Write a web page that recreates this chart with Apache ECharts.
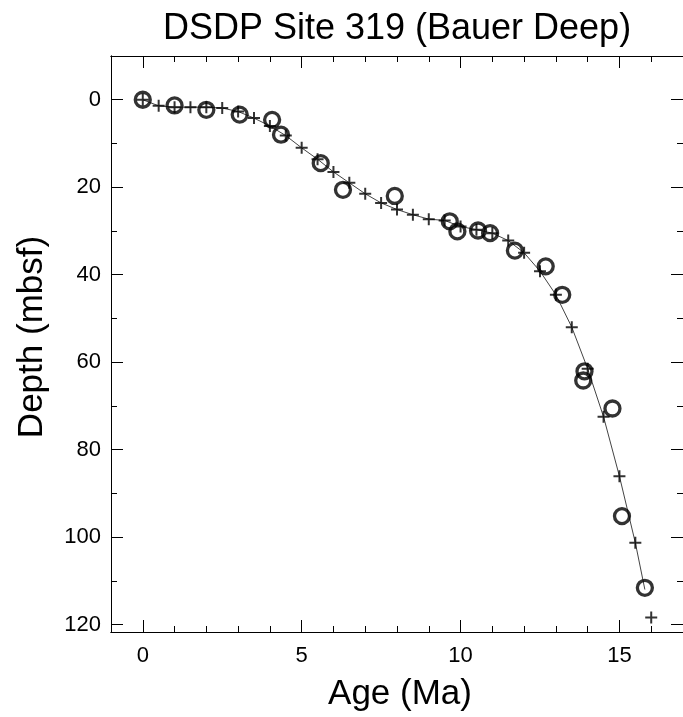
<!DOCTYPE html>
<html>
<head>
<meta charset="utf-8">
<script src="https://cdn.jsdelivr.net/npm/echarts@6/dist/echarts.min.js"></script>
<style>
html,body{margin:0;padding:0;background:#fff;}
#chart{width:683px;height:717px;}
</style>
</head>
<body>
<div id="chart"></div>
<script>
// Tie points (open circles): age (Ma), depth (mbsf)
const tieAge   = [0.0, 1.0, 2.0, 3.05, 4.07, 4.35, 5.6, 6.3, 7.93, 9.66, 9.9, 10.55, 10.93, 11.71, 12.68, 13.2, 13.9, 13.86, 14.78, 15.08, 15.8];
const tieDepth = [0.0, 1.3, 2.3, 3.4, 4.6, 8.0, 14.5, 20.6, 22.0, 27.8, 30.1, 29.9, 30.5, 34.5, 38.1, 44.6, 62.1, 64.2, 70.6, 95.2, 111.6];

// Age-model points (crosses)
const modelAge   = [0, 0.5, 1.0, 1.5, 2.0, 2.5, 3.0, 3.5, 4.0, 4.5, 5.0, 5.5, 6.0, 6.5, 7.0, 7.5, 8.0, 8.5, 9.0, 9.5, 10.0, 10.5, 11.0, 11.5, 12.0, 12.5, 13.0, 13.5, 14.0, 14.5, 15.0, 15.5, 16.0];
const modelDepth = [0, 1.4, 1.7, 1.7, 1.7, 1.9, 2.7, 4.2, 6.0, 8.2, 11.0, 13.6, 16.5, 19.0, 21.5, 23.6, 25.1, 26.3, 27.3, 27.6, 29.0, 29.7, 30.5, 32.2, 35.0, 39.2, 44.6, 52.0, 61.5, 72.5, 86.1, 101.3, 118.4];

// Age-model curve (thin line)
const curveAge   = [0, 0.5, 1.0, 1.5, 2.0, 2.5, 3.0, 3.5, 4.0, 4.5, 5.0, 5.5, 6.0, 6.5, 7.0, 7.5, 8.0, 8.5, 9.0, 9.5, 10.0, 10.5, 11.0, 11.5, 12.0, 12.5, 13.0, 13.5, 14.0, 14.5, 15.0, 15.5, 15.8];
const curveDepth = [0, 1.4, 1.7, 1.7, 1.7, 1.9, 2.7, 4.2, 6.0, 8.2, 11.0, 13.6, 16.5, 19.0, 21.5, 23.6, 25.1, 26.3, 27.3, 27.6, 29.0, 29.7, 30.5, 32.2, 35.0, 39.2, 44.6, 52.0, 61.5, 72.5, 86.1, 101.3, 112.0];

// Axis ticks
const xMajorTicks = [0, 5, 10, 15];
const xMinorTicks = [1, 2, 3, 4, 6, 7, 8, 9, 11, 12, 13, 14, 16];
const yMajorTicks = [0, 20, 40, 60, 80, 100, 120];
const yMinorTicks = [10, 30, 50, 70, 90, 110];

const zip = (a, b) => a.map((v, i) => [v, b[i]]);

const FONT = '"Liberation Sans", Arial, Helvetica, sans-serif';
const X_MIN = -1, X_MAX = 17, Y_MIN = -10, Y_MAX = 121.7;

function xAx(position, ticks, len, showLabel, extra) {
  return Object.assign({
    type: 'value', position: position, min: X_MIN, max: X_MAX,
    axisLine: { show: true, onZero: false, lineStyle: { color: '#000', width: 1 } },
    axisTick: { show: true, inside: true, length: len, customValues: ticks, lineStyle: { color: '#000', width: 1 } },
    axisLabel: showLabel ? { show: true, customValues: ticks, fontSize: 22, color: '#000', fontFamily: FONT, margin: 13 } : { show: false },
    splitLine: { show: false }
  }, extra || {});
}
function yAx(position, ticks, len, showLabel, extra) {
  return Object.assign({
    type: 'value', position: position, min: Y_MIN, max: Y_MAX, inverse: true,
    axisLine: { show: true, onZero: false, lineStyle: { color: '#000', width: 1 } },
    axisTick: { show: true, inside: true, length: len, customValues: ticks, lineStyle: { color: '#000', width: 1 } },
    axisLabel: showLabel ? { show: true, customValues: ticks, fontSize: 22, color: '#000', fontFamily: FONT, margin: 10 } : { show: false },
    splitLine: { show: false }
  }, extra || {});
}

const chart = echarts.init(document.getElementById('chart'), null, { renderer: 'canvas' });
chart.setOption({
  animation: false,
  backgroundColor: '#fff',
  title: {
    text: 'DSDP Site 319 (Bauer Deep)',
    left: 397, top: 11, padding: 0,
    textAlign: 'center',
    textStyle: { fontSize: 36, fontWeight: 'normal', color: '#000', fontFamily: FONT }
  },
  grid: { left: 111, right: -3.5, top: 56, bottom: 85, containLabel: false },
  xAxis: [
    xAx('bottom', xMajorTicks, 12, true, {
      name: 'Age (Ma)', nameLocation: 'middle', nameGap: 45,
      nameTextStyle: { fontSize: 35, color: '#000', fontFamily: FONT, padding: [0, 0, 0, 6] }
    }),
    xAx('bottom', xMinorTicks, 6, false),
    xAx('top', xMajorTicks, 12, false),
    xAx('top', xMinorTicks, 6, false)
  ],
  yAxis: [
    yAx('left', yMajorTicks, 12, true, {
      name: 'Depth (mbsf)', nameLocation: 'middle', nameGap: 61, nameRotate: 90,
      nameTextStyle: { fontSize: 35, color: '#000', fontFamily: FONT, padding: [0, 0, 0, 14] }
    }),
    yAx('left', yMinorTicks, 6, false),
    yAx('right', yMajorTicks, 12, false),
    yAx('right', yMinorTicks, 6, false)
  ],
  series: [
    {
      name: 'Age model', type: 'line', xAxisIndex: 0, yAxisIndex: 0,
      data: zip(curveAge, curveDepth),
      showSymbol: false, symbol: 'none',
      lineStyle: { color: '#444', width: 1 },
      z: 1
    },
    {
      name: 'Tie points', type: 'scatter', xAxisIndex: 0, yAxisIndex: 0,
      data: zip(tieAge, tieDepth),
      symbol: 'circle', symbolSize: 15,
      itemStyle: { color: 'rgba(0,0,0,0)', borderColor: '#000', borderWidth: 3.3 },
      z: 2
    },
    {
      name: 'Model ages', type: 'scatter', xAxisIndex: 0, yAxisIndex: 0,
      data: zip(modelAge, modelDepth),
      symbol: 'path://M5,0H7V5H12V7H7V12H5V7H0V5H5Z', symbolSize: 12,
      itemStyle: { color: '#000' },
      z: 3
    }
  ]
});
</script>
</body>
</html>
